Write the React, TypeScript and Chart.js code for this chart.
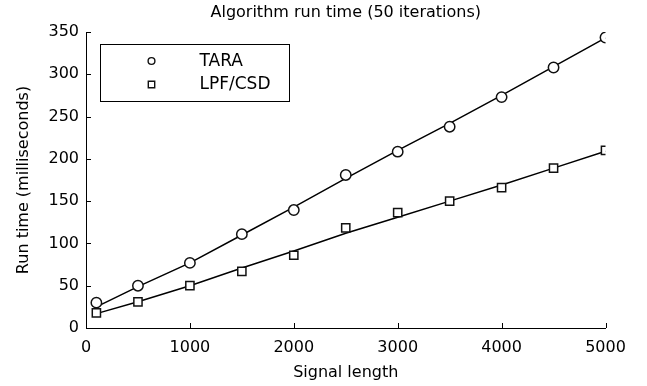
import React, { useEffect, useRef } from "react";
import { Chart, registerables } from "chart.js";

Chart.register(...registerables);

// ---- Data ----
const signalLength = [100, 500, 1000, 1500, 2000, 2500, 3000, 3500, 4000, 4500, 5000];
const taraTime = [30, 50, 77, 111, 139.5, 181, 208.5, 238, 273, 308, 343.5];
const lpfTime = [18, 31, 50, 67, 86, 118.5, 136.5, 150, 166, 189, 210];
const taraFit = [25, 49, 77, 110, 143, 177, 210, 242, 275, 309, 343];
const lpfFit = [17, 31, 50, 71, 91, 112, 131, 150, 169, 189, 209];
const seriesLabels = ["TARA", "LPF/CSD"];
const seriesStyles = ["circle", "rect"];

const titleText = "Algorithm run time (50 iterations)";
const xTitle = "Signal length";
const yTitle = "Run time (milliseconds)";
const xMin = 0;
const xMax = 5000;
const xStep = 1000;
const yMin = 0;
const yMax = 350;
const yStep = 50;

const FONT = "'DejaVu Sans', 'Liberation Sans', Arial, sans-serif";

const inwardTicks = {
  id: "inwardTicks",
  afterDraw(chart: any) {
    const { ctx, chartArea, scales } = chart;
    const x = scales.x;
    const y = scales.y;
    ctx.save();
    ctx.strokeStyle = "#000";
    ctx.lineWidth = 1;
    ctx.beginPath();
    x.ticks.forEach((t: any) => {
      const px = Math.round(x.getPixelForValue(t.value)) + 0.5;
      ctx.moveTo(px, chartArea.bottom);
      ctx.lineTo(px, chartArea.bottom - 5);
    });
    y.ticks.forEach((t: any) => {
      const py = Math.round(y.getPixelForValue(t.value)) + 0.5;
      ctx.moveTo(chartArea.left, py);
      ctx.lineTo(chartArea.left + 5, py);
    });
    ctx.stroke();
    ctx.restore();
  },
};

const boxLegend = {
  id: "boxLegend",
  afterDraw(chart: any) {
    const { ctx, chartArea } = chart;
    const left = Math.round(chartArea.left + 14) + 0.5;
    const top = Math.round(chartArea.top + 12) + 0.5;
    const w = 189;
    const h = 57;
    ctx.save();
    ctx.fillStyle = "#fff";
    ctx.fillRect(left, top, w, h);
    ctx.strokeStyle = "#000";
    ctx.lineWidth = 1;
    ctx.strokeRect(left, top, w, h);
    const items = chart.data.datasets.filter((d: any) => d.label);
    items.forEach((d: any, i: number) => {
      const cy = top + 16.5 + i * 23.5;
      const cx = left + 51;
      ctx.lineWidth = 1.4;
      ctx.strokeStyle = "#111";
      ctx.fillStyle = "#fff";
      ctx.beginPath();
      if (d.pointStyle === "circle") {
        ctx.arc(cx, cy, 3.4, 0, Math.PI * 2);
      } else {
        ctx.rect(cx - 3.2, cy - 3.2, 6.4, 6.4);
      }
      ctx.fill();
      ctx.stroke();
      ctx.fillStyle = "#000";
      ctx.font = `17px ${FONT}`;
      ctx.textAlign = "left";
      ctx.textBaseline = "middle";
      ctx.fillText(d.label, left + 99, cy + 0.5);
    });
    ctx.restore();
  },
};

export default function App() {
  const ref = useRef<HTMLCanvasElement | null>(null);

  useEffect(() => {
    document.body.style.margin = "0";
    const canvas = ref.current;
    if (!canvas) return;
    const markerData = [taraTime, lpfTime];
    const fitData = [taraFit, lpfFit];
    const datasets: any[] = [];
    markerData.forEach((vals, i) => {
      datasets.push({
        label: seriesLabels[i],
        data: signalLength.map((x, j) => ({ x, y: vals[j] })),
        showLine: false,
        pointStyle: seriesStyles[i],
        pointRadius: seriesStyles[i] === "circle" ? 5.2 : 5.8,
        pointBorderWidth: 1.5,
        pointBorderColor: "#111",
        pointBackgroundColor: "#fff",
        borderColor: "#111",
        backgroundColor: "#fff",
      });
    });
    fitData.forEach((vals) => {
      datasets.push({
        label: "",
        data: signalLength.map((x, j) => ({ x, y: vals[j] })),
        showLine: true,
        pointRadius: 0,
        borderColor: "#000",
        borderWidth: 1.5,
        tension: 0,
        fill: false,
      });
    });

    const chart = new Chart(canvas, {
      type: "scatter",
      data: { datasets },
      plugins: [inwardTicks, boxLegend],
      options: {
        animation: false,
        responsive: false,
        devicePixelRatio: 1,
        events: [],
        layout: { padding: { top: 0, left: 0, right: 41.5, bottom: 0 } },
        plugins: {
          legend: { display: false },
          tooltip: { enabled: false },
          title: {
            display: true,
            fullSize: false,
            text: titleText,
            color: "#000",
            font: { family: FONT, size: 16, weight: "normal" },
            padding: { top: 3, bottom: 9.8 },
          },
        },
        scales: {
          x: {
            type: "linear",
            min: xMin,
            max: xMax,
            ticks: {
              stepSize: xStep,
              color: "#000",
              padding: 10,
              font: { family: FONT, size: 16 },
              maxRotation: 0,
              callback: (v: any) => String(v),
            },
            grid: { display: false, drawTicks: false },
            border: { display: true, color: "#000", width: 1 },
            title: {
              display: true,
              text: xTitle,
              color: "#000",
              font: { family: FONT, size: 16 },
              padding: { top: 0, bottom: 4 },
            },
            afterFit: (s: any) => {
              s.height = 58;
            },
          },
          y: {
            type: "linear",
            min: yMin,
            max: yMax,
            ticks: {
              stepSize: yStep,
              color: "#000",
              padding: 7,
              font: { family: FONT, size: 16 },
              callback: (v: any) => String(v),
            },
            grid: { display: false, drawTicks: false },
            border: { display: true, color: "#000", width: 1 },
            title: {
              display: true,
              text: yTitle,
              color: "#000",
              font: { family: FONT, size: 16 },
              padding: { top: 14, bottom: 0 },
            },
            afterFit: (s: any) => {
              s.width = 86;
            },
          },
        },
      } as any,
    });
    return () => chart.destroy();
  }, []);

  return (
    <div style={{ position: "absolute", left: 0, top: 0, width: 647, height: 386, background: "#fff" }}>
      <canvas ref={ref} width={647} height={386} style={{ width: 647, height: 386, display: "block" }} />
    </div>
  );
}
